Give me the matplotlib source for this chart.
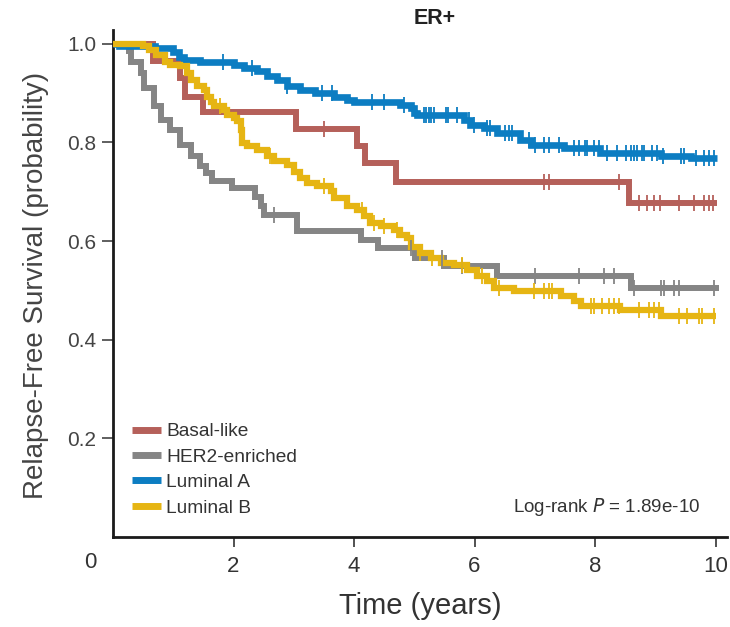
#!/usr/bin/env python3
# coding: utf-8

import numpy as np
import matplotlib
matplotlib.use('Agg')
import matplotlib.pyplot as plt

# Kaplan-Meier estimates: event times and survival just after each event
basal_t = [0.0, 0.67, 1.12, 1.20, 1.50, 3.03, 4.05, 4.19, 4.69, 8.56]
basal_s = [1.0, 0.965, 0.93, 0.893, 0.862, 0.828, 0.792, 0.758, 0.720, 0.677]
basal_end = 10.03
basal_cens = [3.50, 7.15, 7.23, 8.40, 8.73, 8.87, 8.98, 9.07, 9.39, 9.65, 9.81, 9.89, 9.96]

her2_t = [0.0, 0.27, 0.30, 0.46, 0.51, 0.68, 0.79, 0.95, 1.12, 1.29, 1.45, 1.55, 1.65,
          1.98, 2.35, 2.45, 2.50, 3.06, 4.11, 4.39, 5.02, 5.49, 6.38, 8.59]
her2_s = [1.0, 0.985, 0.964, 0.94, 0.91, 0.873, 0.846, 0.826, 0.795, 0.772, 0.752, 0.738, 0.721,
          0.708, 0.690, 0.672, 0.653, 0.620, 0.603, 0.586, 0.566, 0.549, 0.529, 0.505]
her2_end = 10.06
her2_cens = [2.67, 4.94, 5.46, 5.80, 7.01, 7.73, 8.15, 8.31, 8.64, 9.09, 9.14, 9.31, 9.39, 9.97]

luma_t = [0.0, 0.10, 0.70, 1.00, 1.09, 1.18, 1.45, 2.00, 2.17, 2.39, 2.56, 2.73, 2.89, 3.11,
          3.35, 3.66, 3.89, 4.00, 4.77, 4.94, 5.00, 5.05, 5.82, 5.93, 6.15, 6.38, 6.76, 6.93,
          7.48, 8.09, 9.09, 9.60]
luma_s = [1.0, 0.995, 0.991, 0.984, 0.974, 0.968, 0.964, 0.957, 0.951, 0.944, 0.934, 0.927, 0.914, 0.907,
          0.900, 0.893, 0.887, 0.883, 0.876, 0.869, 0.860, 0.856, 0.846, 0.836, 0.829, 0.819, 0.805, 0.795,
          0.789, 0.779, 0.772, 0.769]
luma_end = 10.03
luma_cens = [1.83, 2.31, 2.89, 3.47, 3.64, 4.30, 4.49, 4.83, 5.16, 5.19, 5.24, 5.27, 5.32, 5.52,
             5.56, 5.71, 5.90, 5.99, 6.21, 6.26, 6.51, 6.57, 6.63, 6.90, 7.01, 7.15, 7.23, 7.40,
             7.65, 7.73, 7.84, 7.87, 7.98, 8.06, 8.20, 8.37, 8.51, 8.59, 8.64, 8.70, 8.78, 8.82,
             8.95, 9.03, 9.12, 9.42, 9.47, 9.67, 9.81, 9.89, 9.97]

lumb_t = [0.0, 0.50, 0.60, 0.72, 0.87, 0.95, 1.12, 1.23, 1.29, 1.40, 1.51, 1.56, 1.62, 1.67,
          1.84, 1.90, 2.00, 2.06, 2.12, 2.14, 2.23, 2.39, 2.56, 2.67, 2.89, 3.00, 3.11, 3.22,
          3.39, 3.61, 3.66, 3.89, 4.05, 4.16, 4.27, 4.44, 4.66, 4.77, 4.88, 4.94, 5.10, 5.27,
          5.44, 5.66, 5.88, 6.04, 6.21, 6.32, 6.65, 7.43, 7.65, 7.76, 8.42, 9.09]
lumb_s = [1.0, 0.995, 0.988, 0.978, 0.964, 0.957, 0.954, 0.941, 0.927, 0.914, 0.907, 0.893, 0.883, 0.873,
          0.866, 0.856, 0.850, 0.843, 0.826, 0.799, 0.792, 0.785, 0.772, 0.762, 0.755, 0.740, 0.728, 0.718,
          0.711, 0.701, 0.687, 0.672, 0.664, 0.650, 0.637, 0.630, 0.623, 0.613, 0.606, 0.589, 0.576, 0.566,
          0.556, 0.552, 0.542, 0.529, 0.519, 0.505, 0.498, 0.488, 0.478, 0.468, 0.461, 0.448]
lumb_end = 10.0
lumb_cens = [1.78, 2.12, 2.60, 3.50, 4.14, 4.33, 4.49, 4.72, 5.10, 5.30, 5.80, 6.13, 6.40, 6.98,
             7.15, 7.23, 7.29, 7.93, 7.98, 8.12, 8.23, 8.31, 8.39, 8.73, 8.90, 8.98, 9.06, 9.39,
             9.53, 9.72, 9.78, 9.97]

groups = ['Basal-like', 'HER2-enriched', 'Luminal A', 'Luminal B']
colors = ['#B5605A', '#858585', '#0C7DC2', '#E6B513']
widths = [4.3, 4.3, 4.8, 4.5]
p_value = '1.89e-10'

plt.rcParams['font.family'] = ['Liberation Sans', 'DejaVu Sans']


def km_curve(ax, times, surv, end, cens, color, lw, label):
    t = np.append(times, end)
    s = np.append(surv, surv[-1])
    ax.step(t, s, where='post', color=color, lw=lw, solid_capstyle='butt',
            solid_joinstyle='miter', label=label, zorder=3)
    idx = np.searchsorted(times, cens, side='right') - 1
    ax.plot(cens, np.asarray(surv)[idx], ls='none', marker='|', ms=11,
            mew=1.3, color=color, zorder=4)


def main():
    fig = plt.figure(figsize=(7.30, 6.27), dpi=100)
    ax = fig.add_axes([113 / 730, 1 - 537 / 627, 614 / 730, 507 / 627])

    data = [
        (basal_t, basal_s, basal_end, basal_cens),
        (her2_t, her2_s, her2_end, her2_cens),
        (luma_t, luma_s, luma_end, luma_cens),
        (lumb_t, lumb_s, lumb_end, lumb_cens),
    ]
    for (t, s, e, c), col, lw, lab in zip(data, colors, widths, groups):
        km_curve(ax, t, s, e, c, col, lw, lab)

    ax.set_xlim(0, 10.19)
    ax.set_ylim(0, 1.028)
    ax.set_xticks([2, 4, 6, 8, 10])
    ax.set_yticks([0.2, 0.4, 0.6, 0.8, 1.0])
    ax.set_yticklabels(['0.2', '0.4', '0.6', '0.8', '1.0'])
    for sp in ['top', 'right']:
        ax.spines[sp].set_visible(False)
    for sp in ['left', 'bottom']:
        ax.spines[sp].set_linewidth(2.0)
        ax.spines[sp].set_color('#1a1a1a')
    ax.tick_params(axis='x', direction='out', length=7, width=1.2, labelsize=16, pad=7,
                   colors='#333333')
    ax.tick_params(axis='y', direction='out', length=8, width=1.2, labelsize=15, pad=4,
                   colors='#444444')

    fig.text(90 / 730, 1 - 563 / 627, '0', ha='center', va='center', fontsize=16, color='#333333')
    fig.text(420 / 730, 1 - 606 / 627, 'Time (years)', ha='center', va='center', fontsize=21,
             color='#333333')
    fig.text(36 / 730, 1 - 285 / 627, 'Relapse-Free Survival (probability)', rotation=90,
             ha='center', va='center', fontsize=20, color='#444444')
    fig.text(435 / 730, 1 - 19 / 627, 'ER+', ha='center', va='center', fontsize=15.5,
             fontweight='bold', color='#222222')

    leg = ax.legend(loc='lower left', bbox_to_anchor=(0.018, 0.025), frameon=False,
                    fontsize=13.8, handlelength=1.55, handletextpad=0.25, labelspacing=0.42,
                    borderaxespad=0)
    for h in leg.get_lines():
        h.set_linewidth(5)
    for txt in leg.get_texts():
        txt.set_color('#333333')

    ax.text(0.957, 0.06, 'Log-rank $P$ = ' + p_value, transform=ax.transAxes, ha='right',
            va='center', fontsize=13.5, color='#333333')

    fig.savefig('out.png', dpi=100, facecolor='white')


if __name__ == '__main__':
    main()
